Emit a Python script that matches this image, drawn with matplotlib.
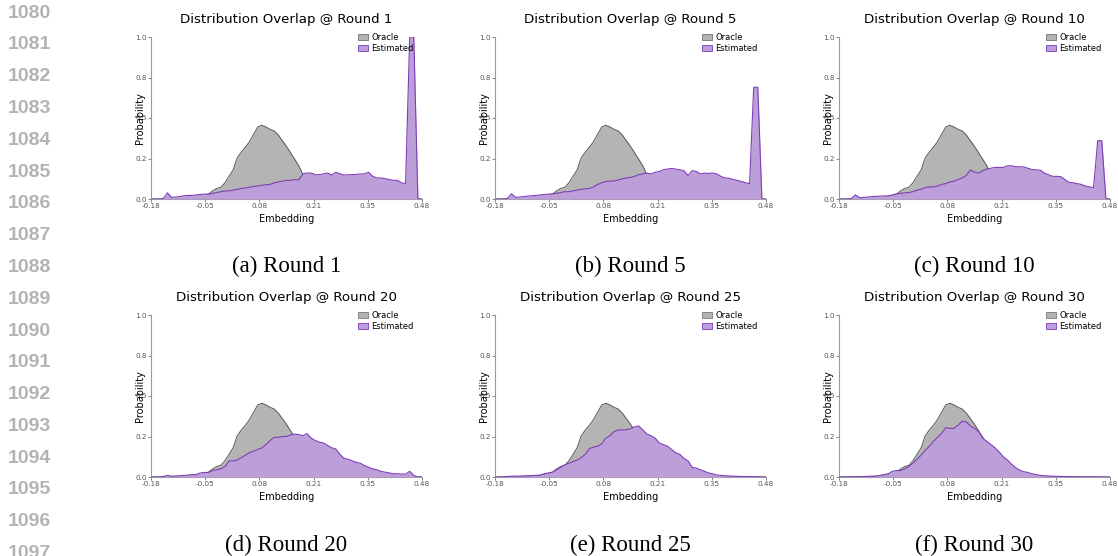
import matplotlib
matplotlib.use("Agg")
import matplotlib.pyplot as plt
from matplotlib.patches import Patch
import numpy as np

# bin centres of the embedding histogram
x = np.round(np.arange(-0.18, 0.4801, 0.01), 2)

oracle = [0, 0, 0, 0, 0, 0, 0, 0, 0.002, 0.004,
          0.006, 0.01, 0.015, 0.02, 0.03, 0.05, 0.065, 0.072, 0.10, 0.14,
          0.18, 0.255, 0.29, 0.32, 0.355, 0.40, 0.445, 0.455, 0.445, 0.43,
          0.42, 0.395, 0.36, 0.325, 0.285, 0.245, 0.205, 0.15, 0.10, 0.07,
          0.05, 0.035, 0.02, 0.01, 0.005, 0.003, 0.002, 0.001, 0, 0,
          0, 0, 0, 0, 0, 0, 0, 0, 0, 0,
          0, 0, 0, 0, 0, 0, 0]

est_r1 = [0, 0, 0, 0.003, 0.038, 0.01, 0.012, 0.015, 0.02, 0.022,
          0.022, 0.025, 0.028, 0.03, 0.03, 0.035, 0.04, 0.045, 0.05, 0.05,
          0.055, 0.06, 0.065, 0.068, 0.072, 0.078, 0.08, 0.085, 0.088, 0.09,
          0.10, 0.105, 0.11, 0.115, 0.115, 0.12, 0.118, 0.155, 0.16, 0.16,
          0.15, 0.15, 0.155, 0.16, 0.148, 0.165, 0.155, 0.148, 0.15, 0.15,
          0.152, 0.155, 0.155, 0.165, 0.14, 0.13, 0.13, 0.125, 0.12, 0.115,
          0.115, 0.10, 0.095, 1.0, 1.0, 0, 0]

est_r5 = [0, 0, 0, 0.003, 0.032, 0.01, 0.012, 0.015, 0.018, 0.02,
          0.022, 0.025, 0.028, 0.03, 0.032, 0.035, 0.04, 0.045, 0.045, 0.05,
          0.055, 0.06, 0.063, 0.065, 0.075, 0.09, 0.10, 0.108, 0.11, 0.112,
          0.118, 0.125, 0.13, 0.133, 0.14, 0.15, 0.155, 0.16, 0.155, 0.165,
          0.17, 0.18, 0.185, 0.188, 0.185, 0.18, 0.175, 0.145, 0.175, 0.17,
          0.155, 0.16, 0.158, 0.16, 0.155, 0.14, 0.13, 0.128, 0.12, 0.115,
          0.108, 0.10, 0.095, 0.69, 0.69, 0, 0]

est_r10 = [0, 0, 0, 0.003, 0.025, 0.008, 0.01, 0.012, 0.015, 0.016,
           0.018, 0.019, 0.02, 0.025, 0.032, 0.035, 0.038, 0.04, 0.045, 0.055,
           0.06, 0.07, 0.075, 0.075, 0.08, 0.09, 0.095, 0.105, 0.11, 0.12,
           0.13, 0.145, 0.18, 0.165, 0.16, 0.175, 0.185, 0.19, 0.195, 0.195,
           0.195, 0.205, 0.205, 0.2, 0.198, 0.198, 0.19, 0.182, 0.18, 0.178,
           0.16, 0.15, 0.14, 0.14, 0.138, 0.12, 0.103, 0.1, 0.095, 0.09,
           0.08, 0.075, 0.07, 0.36, 0.36, 0, 0]

est_r20 = [0, 0, 0, 0.003, 0.01, 0.005, 0.006, 0.008, 0.01, 0.012,
           0.015, 0.015, 0.025, 0.028, 0.028, 0.04, 0.045, 0.05, 0.065, 0.098,
           0.1, 0.105, 0.12, 0.135, 0.15, 0.16, 0.17, 0.18, 0.2, 0.225,
           0.245, 0.245, 0.25, 0.25, 0.26, 0.265, 0.262, 0.255, 0.268, 0.24,
           0.225, 0.215, 0.21, 0.195, 0.18, 0.173, 0.14, 0.115, 0.11, 0.10,
           0.09, 0.085, 0.07, 0.06, 0.05, 0.045, 0.035, 0.03, 0.025, 0.02,
           0.02, 0.018, 0.018, 0.035, 0.01, 0, 0]

est_r25 = [0, 0, 0.002, 0.003, 0.005, 0.005, 0.006, 0.007, 0.008, 0.009,
           0.01, 0.012, 0.02, 0.025, 0.03, 0.045, 0.06, 0.075, 0.085, 0.095,
           0.105, 0.12, 0.14, 0.175, 0.185, 0.19, 0.205, 0.24, 0.255, 0.28,
           0.29, 0.29, 0.292, 0.298, 0.31, 0.315, 0.29, 0.265, 0.255, 0.24,
           0.21, 0.2, 0.19, 0.17, 0.15, 0.14, 0.115, 0.1, 0.06, 0.055,
           0.045, 0.035, 0.025, 0.02, 0.012, 0.01, 0.008, 0.006, 0.005, 0.004,
           0.003, 0.003, 0.002, 0.002, 0.001, 0, 0]

est_r30 = [0, 0.001, 0.001, 0.002, 0.002, 0.002, 0.003, 0.004, 0.005, 0.006,
           0.01, 0.015, 0.02, 0.035, 0.04, 0.04, 0.05, 0.065, 0.085, 0.11,
           0.135, 0.165, 0.19, 0.22, 0.245, 0.27, 0.305, 0.30, 0.30, 0.32,
           0.345, 0.34, 0.315, 0.30, 0.28, 0.24, 0.22, 0.2, 0.18, 0.155,
           0.125, 0.105, 0.08, 0.058, 0.042, 0.033, 0.028, 0.02, 0.015, 0.01,
           0.008, 0.006, 0.005, 0.004, 0.003, 0.003, 0.002, 0.002, 0.002, 0.001,
           0.001, 0.001, 0.001, 0, 0, 0, 0]

rounds = [1, 5, 10, 20, 25, 30]
estimated = [est_r1, est_r5, est_r10, est_r20, est_r25, est_r30]
captions = ["(a) Round 1", "(b) Round 5", "(c) Round 10",
            "(d) Round 20", "(e) Round 25", "(f) Round 30"]
xtick_labels = ["-0.18", "-0.05", "0.08", "0.21", "0.35", "0.48"]
ytick_labels = ["0.0", "0.2", "0.5", "0.8", "1.0"]
line_numbers = list(range(1080, 1098))

W, H = 1118, 556
fig = plt.figure(figsize=(W / 100, H / 100), dpi=100)

gray_fill, gray_line = "#b4b4b4", "#555555"
purple_fill, purple_line = "#bc9fd9", "#7e3db8"

lefts = [151, 495, 839]
tops = [37, 315]
aw, ah = 271, 162

for k in range(6):
    r, c = divmod(k, 3)
    ax = fig.add_axes([lefts[c] / W, 1 - (tops[r] + ah) / H, aw / W, ah / H])
    est = estimated[k]
    ax.fill_between(x, oracle, color=gray_fill, lw=0, zorder=1)
    ax.plot(x, oracle, color=gray_line, lw=0.7, zorder=2)
    ax.fill_between(x, est, color=purple_fill, lw=0, zorder=3)
    ax.plot(x, est, color=purple_line, lw=0.8, zorder=4)

    ax.set_xlim(-0.18, 0.48)
    ax.set_ylim(0, 1.0)
    ax.set_xticks(np.linspace(-0.18, 0.48, 6))
    ax.set_xticklabels(xtick_labels)
    ax.set_yticks(np.linspace(0, 1, 5))
    ax.set_yticklabels(ytick_labels)
    ax.tick_params(labelsize=5.2, colors="#555555", length=2, width=0.5, pad=1)
    for s in ["top", "right"]:
        ax.spines[s].set_visible(False)
    for s in ["left", "bottom"]:
        ax.spines[s].set_color("#999999")
        ax.spines[s].set_linewidth(0.8)

    ax.set_title("Distribution Overlap @ Round %d" % rounds[k], fontsize=9.6, pad=10)
    ax.set_xlabel("Embedding", fontsize=7)
    ax.set_ylabel("Probability", fontsize=7)
    ax.xaxis.set_label_coords(0.5, -0.09)
    ax.yaxis.set_label_coords(-0.022, 0.5)

    handles = [Patch(facecolor=gray_fill, edgecolor="#777777", lw=0.6),
               Patch(facecolor=purple_fill, edgecolor=purple_line, lw=0.6)]
    ax.legend(handles, ["Oracle", "Estimated"], loc="upper right",
              bbox_to_anchor=(0.975, 1.035), frameon=False, fontsize=6,
              handlelength=1.2, handleheight=0.6, labelspacing=0.25,
              handletextpad=0.4, borderaxespad=0, borderpad=0.2)

    fig.text((lefts[c] + aw / 2) / W, 1 - [266, 545][r] / H, captions[k],
             fontsize=16.5, family="Liberation Serif", ha="center", va="center")

for i, n in enumerate(line_numbers):
    fig.text(8 / W, 1 - (13 + 31.8 * i) / H, str(n), fontsize=14,
             family="Liberation Sans", weight="bold", color="#b3b3b3",
             ha="left", va="center")

fig.savefig("out.png", dpi=100)
